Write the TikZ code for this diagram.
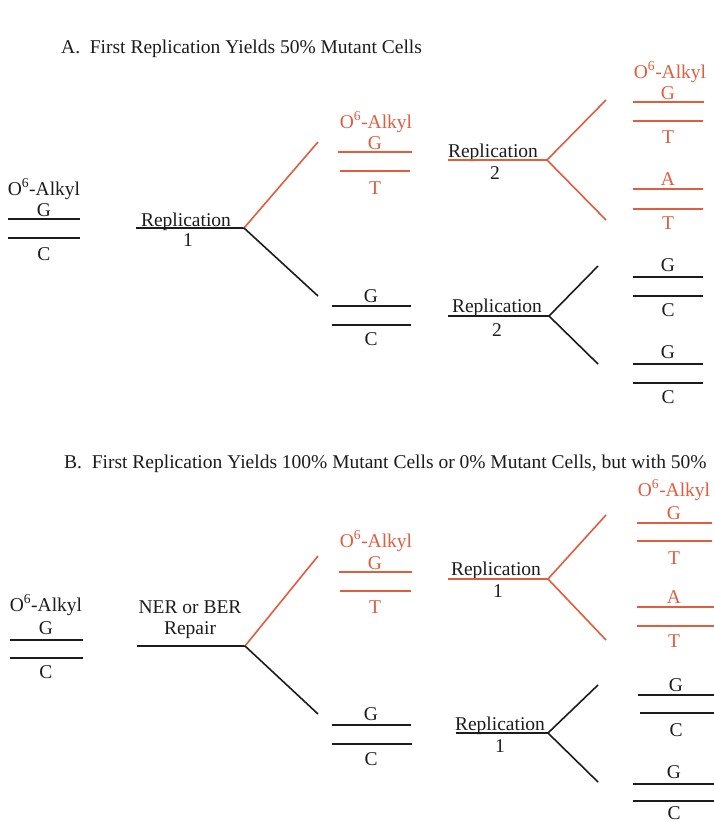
\documentclass[tikz,border=0pt]{standalone}
\usepackage{fontspec}
\setmainfont{Liberation Serif}
\definecolor{mred}{RGB}{226,92,62}
\definecolor{mblk}{RGB}{28,28,28}
\tikzset{
  lbl/.style={anchor=base, inner sep=0pt, font=\fontsize{19.5}{22}\selectfont, text=mblk},
  rlbl/.style={lbl, text=mred},
  ttl/.style={anchor=base west, inner sep=0pt, font=\fontsize{19.5}{22}\selectfont, text=mblk},
  strand/.style={line width=1.4pt, mblk},
  rstrand/.style={line width=1.4pt, mred},
  branch/.style={line width=1.6pt, mblk},
  rbranch/.style={line width=1.6pt, mred},
}
\begin{document}
\begin{tikzpicture}[x=1pt,y=-1pt]
\useasboundingbox (0,0) rectangle (714,822);
% ================= Panel A =================
\node[ttl] (tA) at (61,53) {A.\ \ First Replication Yields 50\% Mutant Cells};
% left duplex
\node[lbl] (aLo) at (44,195) {O\textsuperscript{6}-Alkyl};
\node[lbl] (aLg) at (44,216) {G};
\draw[strand] (8,219) -- (80,219);
\draw[strand] (8,238) -- (80,238);
\node[lbl] (aLc) at (44,260) {C};
% replication 1
\node[lbl] (aRep) at (186,226) {Replication};
\node[lbl] (aRepn) at (188,246) {1};
\coordinate (aS) at (136,228);
\coordinate (aJ) at (244,228);
\coordinate (aEr) at (318,142);
\coordinate (aEb) at (318,296);
\draw[strand] (aS) -- (aJ);
\draw[rbranch] (aJ) -- (aEr);
\draw[branch] (aJ) -- (aEb);
% red middle duplex
\node[rlbl] (aMo) at (376,128) {O\textsuperscript{6}-Alkyl};
\node[rlbl] (aMg) at (375,149) {G};
\draw[rstrand] (338,152) -- (412,152);
\draw[rstrand] (340,171) -- (410,171);
\node[rlbl] (aMt) at (375,194) {T};
% replication 2 (red)
\node[lbl] (aRep2) at (493,157) {Replication};
\node[lbl] (aRep2n) at (495,179) {2};
\coordinate (aS2) at (448,160);
\coordinate (aJ2) at (547,160);
\coordinate (aE2u) at (606,100);
\coordinate (aE2d) at (606,220);
\draw[rstrand] (aS2) -- (aJ2);
\draw[rbranch] (aJ2) -- (aE2u);
\draw[rbranch] (aJ2) -- (aE2d);
% right red duplexes
\node[rlbl] (aR1o) at (670,78) {O\textsuperscript{6}-Alkyl};
\node[rlbl] (aR1g) at (668,99) {G};
\draw[rstrand] (633,102) -- (704,102);
\draw[rstrand] (633,121) -- (703,121);
\node[rlbl] (aR1t) at (668,143) {T};
\node[rlbl] (aR2a) at (668,185) {A};
\draw[rstrand] (633,189) -- (703,189);
\draw[rstrand] (633,209) -- (703,209);
\node[rlbl] (aR2t) at (668,229) {T};
% black middle duplex
\node[lbl] (aBg) at (371,302) {G};
\draw[strand] (332,306) -- (411,306);
\draw[strand] (332,325) -- (411,325);
\node[lbl] (aBc) at (371,345) {C};
% replication 2 (black)
\node[lbl] (aRep3) at (497,312) {Replication};
\node[lbl] (aRep3n) at (497,336) {2};
\coordinate (aS3) at (448,316);
\coordinate (aJ3) at (549,316);
\coordinate (aE3u) at (598,266);
\coordinate (aE3d) at (598,364);
\draw[strand] (aS3) -- (aJ3);
\draw[branch] (aJ3) -- (aE3u);
\draw[branch] (aJ3) -- (aE3d);
% right black duplexes
\node[lbl] (aR3g) at (668,271) {G};
\draw[strand] (633,277) -- (703,277);
\draw[strand] (633,296) -- (703,296);
\node[lbl] (aR3c) at (668,316) {C};
\node[lbl] (aR4g) at (668,358) {G};
\draw[strand] (633,364) -- (703,364);
\draw[strand] (633,383) -- (703,383);
\node[lbl] (aR4c) at (668,403) {C};
% ================= Panel B =================
\node[ttl] (tB) at (64,468) {B.\ \ First Replication Yields 100\% Mutant Cells or 0\% Mutant Cells, but with 50\%};
% left duplex
\node[lbl] (bLo) at (46,611) {O\textsuperscript{6}-Alkyl};
\node[lbl] (bLg) at (46,634) {G};
\draw[strand] (10,640) -- (83,640);
\draw[strand] (10,658) -- (83,658);
\node[lbl] (bLc) at (46,678) {C};
% repair
\node[lbl] (bRep) at (190,613) {NER or BER};
\node[lbl] (bRepb) at (190,634) {Repair};
\coordinate (bS) at (137,646);
\coordinate (bJ) at (245,646);
\coordinate (bEr) at (318,556);
\coordinate (bEb) at (318,714);
\draw[strand] (bS) -- (bJ);
\draw[rbranch] (bJ) -- (bEr);
\draw[branch] (bJ) -- (bEb);
% red middle duplex
\node[rlbl] (bMo) at (376,547) {O\textsuperscript{6}-Alkyl};
\node[rlbl] (bMg) at (375,569) {G};
\draw[rstrand] (339,572) -- (412,572);
\draw[rstrand] (340,591) -- (411,591);
\node[rlbl] (bMt) at (375,613) {T};
% replication 1 (red)
\node[lbl] (bRep2) at (496,575) {Replication};
\node[lbl] (bRep2n) at (498,597) {1};
\coordinate (bS2) at (448,579);
\coordinate (bJ2) at (548,579);
\coordinate (bE2u) at (606,515);
\coordinate (bE2d) at (606,640);
\draw[rstrand] (bS2) -- (bJ2);
\draw[rbranch] (bJ2) -- (bE2u);
\draw[rbranch] (bJ2) -- (bE2d);
% right red duplexes
\node[rlbl] (bR1o) at (674,496) {O\textsuperscript{6}-Alkyl};
\node[rlbl] (bR1g) at (674,519) {G};
\draw[rstrand] (637,523) -- (712,523);
\draw[rstrand] (637,541) -- (712,541);
\node[rlbl] (bR1t) at (674,564) {T};
\node[rlbl] (bR2a) at (674,603) {A};
\draw[rstrand] (637,607) -- (714,607);
\draw[rstrand] (637,626) -- (714,626);
\node[rlbl] (bR2t) at (674,647) {T};
% black middle duplex
\node[lbl] (bBg) at (371,720) {G};
\draw[strand] (332,725) -- (411,725);
\draw[strand] (332,744) -- (412,744);
\node[lbl] (bBc) at (371,765) {C};
% replication 1 (black)
\node[lbl] (bRep3) at (500,730) {Replication};
\node[lbl] (bRep3n) at (500,752) {1};
\coordinate (bS3) at (456,733);
\coordinate (bJ3) at (548,733);
\coordinate (bE3u) at (598,685);
\coordinate (bE3d) at (598,782);
\draw[strand] (bS3) -- (bJ3);
\draw[branch] (bJ3) -- (bE3u);
\draw[branch] (bJ3) -- (bE3d);
% right black duplexes
\node[lbl] (bR3g) at (676,691) {G};
\draw[strand] (638,695) -- (714,695);
\draw[strand] (640,713) -- (714,713);
\node[lbl] (bR3c) at (676,736) {C};
\node[lbl] (bR4g) at (674,778) {G};
\draw[strand] (633,784) -- (714,784);
\draw[strand] (633,801) -- (714,801);
\node[lbl] (bR4c) at (674,819) {C};
\end{tikzpicture}
\end{document}
